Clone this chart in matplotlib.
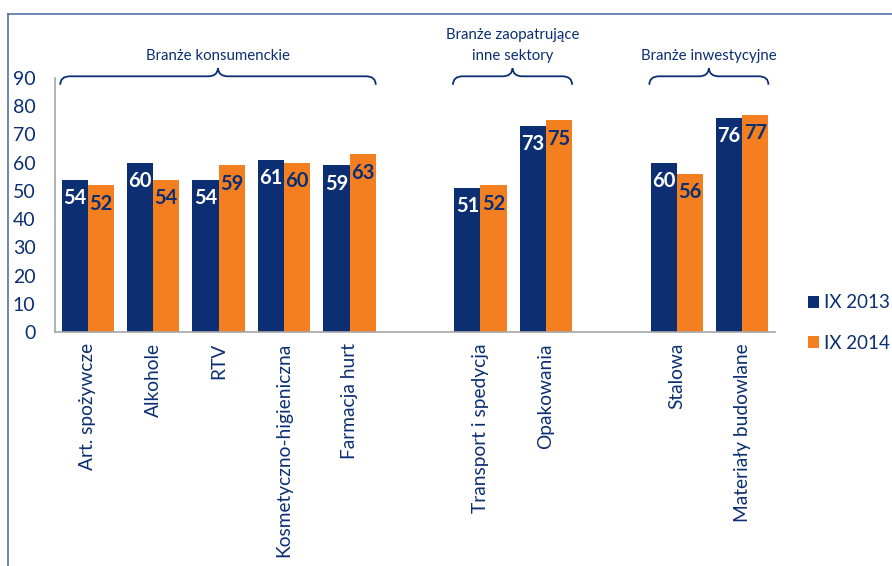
import matplotlib.pyplot as plt
import numpy as np
from matplotlib.lines import Line2D
from matplotlib.path import Path
from matplotlib.patches import PathPatch

categories = ["Art. spożywcze", "Alkohole", "RTV", "Kosmetyczno-higieniczna",
              "Farmacja hurt", "", "Transport i spedycja", "Opakowania", "",
              "Stalowa", "Materiały budowlane"]
ix_2013 = [54, 60, 54, 61, 59, np.nan, 51, 73, np.nan, 60, 76]
ix_2014 = [52, 54, 59, 60, 63, np.nan, 52, 75, np.nan, 56, 77]
groups = [("Branże konsumenckie", 0, 4),
          ("Branże zaopatrujące\ninne sektory", 6, 7),
          ("Branże inwestycyjne", 9, 10)]
y_ticks = list(range(0, 100, 10))

NAVY = "#0B2F72"
ORANGE = "#F47F20"
FRAME = "#5572AA"
plt.rcParams["font.family"] = ["Lato", "DejaVu Sans"]

fig = plt.figure(figsize=(8.92, 5.66), dpi=100)
ax = fig.add_axes([55 / 892, 1 - 332 / 566, 720 / 892, 254 / 566])

x = np.arange(len(categories))
w = 0.4
ax.bar(x - w / 2, ix_2013, w, color=NAVY, label="IX 2013")
ax.bar(x + w / 2, ix_2014, w, color=ORANGE, label="IX 2014")

# value labels inside the bars
for xi, v in zip(x, ix_2013):
    if not np.isnan(v):
        ax.annotate(f"{v:.0f}", (xi - w / 2, v), xytext=(0, -6), textcoords="offset points",
                    ha="center", va="top", color="white", fontsize=14.5, fontweight="bold")
for xi, v in zip(x, ix_2014):
    if not np.isnan(v):
        ax.annotate(f"{v:.0f}", (xi + w / 2, v), xytext=(0, -6), textcoords="offset points",
                    ha="center", va="top", color=NAVY, fontsize=14.5, fontweight="bold")

ax.set_xlim(-0.5, len(categories) - 0.5)
ax.set_ylim(0, 90)
ax.set_yticks(y_ticks)
ax.set_xticks(x)
ax.set_xticklabels(categories, rotation=90, fontsize=13.8, color=NAVY)
ax.tick_params(axis="y", labelsize=14, labelcolor=NAVY, length=0, pad=14)
ax.tick_params(axis="x", length=0, pad=8)
for s in ["top", "right"]:
    ax.spines[s].set_visible(False)
for s in ["left", "bottom"]:
    ax.spines[s].set_color("#A6A6A6")
    ax.spines[s].set_linewidth(1.2)

# braces above the groups
for label, a, b in groups:
    x0, x1 = a - 0.42, b + 0.4
    xm = (x0 + x1) / 2
    y0, y1, yp = 87.6, 90.6, 93.4
    verts = [(x0, y0), (x0, y1), (x0 + 0.15, y1),
             (xm - 0.15, y1),
             (xm - 0.01, y1), (xm, yp),
             (xm + 0.01, y1), (xm + 0.15, y1),
             (x1 - 0.15, y1),
             (x1, y1), (x1, y0)]
    codes = [Path.MOVETO, Path.CURVE3, Path.CURVE3,
             Path.LINETO,
             Path.CURVE3, Path.CURVE3,
             Path.CURVE3, Path.CURVE3,
             Path.LINETO,
             Path.CURVE3, Path.CURVE3]
    ax.add_patch(PathPatch(Path(verts, codes), fill=False, edgecolor=NAVY,
                           linewidth=1.3, clip_on=False))
    ax.text(xm, 95.4, label, ha="center", va="bottom", fontsize=10.8, color=NAVY,
            linespacing=1.6, clip_on=False)

leg = fig.legend(loc="upper left", bbox_to_anchor=(800 / 892, 1 - 287 / 566),
                 frameon=False, fontsize=13.5, handlelength=0.6, handleheight=0.6,
                 handletextpad=0.3, labelspacing=1.25, borderaxespad=0)
for t in leg.get_texts():
    t.set_color(NAVY)

# frame lines
fig.add_artist(Line2D([8 / 892, 8 / 892], [0, 1 - 14 / 566], color=FRAME, linewidth=1.2))
fig.add_artist(Line2D([8 / 892, 1], [1 - 14 / 566, 1 - 14 / 566], color=FRAME, linewidth=1.2))

fig.savefig("out.png", dpi=100)
